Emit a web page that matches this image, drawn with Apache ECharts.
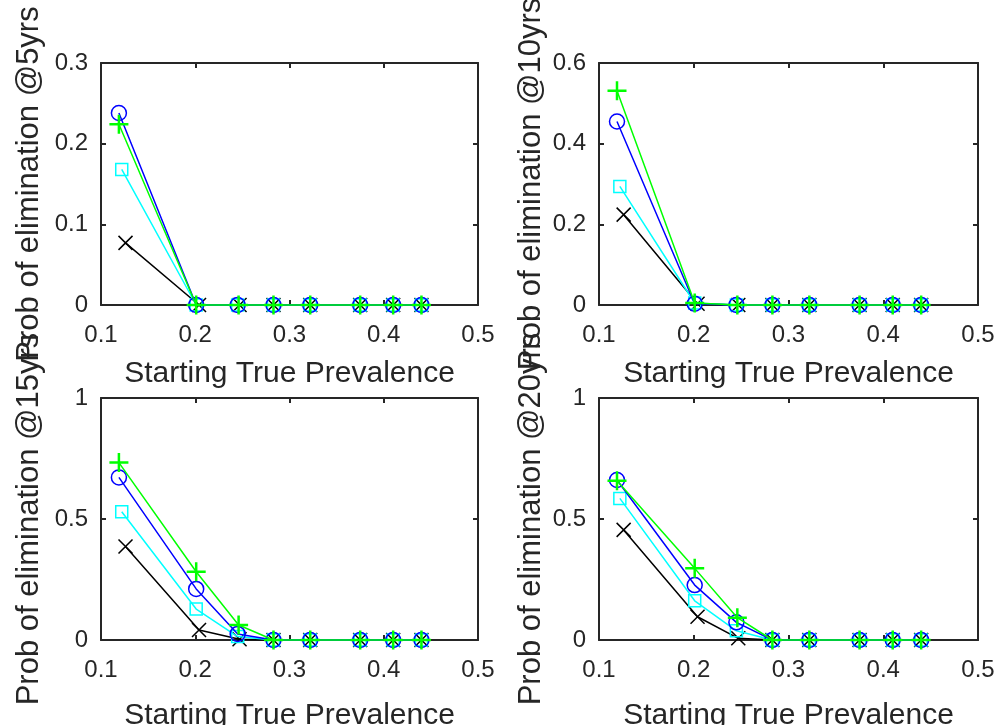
<!DOCTYPE html>
<html>
<head>
    <meta charset="utf-8">
    <title>Prob of elimination</title>
    <script src="https://cdn.jsdelivr.net/npm/echarts@6/dist/echarts.min.js"></script>
    <style>
        html, body { margin: 0; padding: 0; background: #fff; }
        #main { width: 1000px; height: 725px; }
    </style>
</head>
<body>
<div id="main"></div>
<script>
    // starting true prevalence, slightly different per scenario
    var xBlack = [0.126, 0.204, 0.247, 0.283, 0.322, 0.375, 0.410, 0.440];
    var xCyan  = [0.122, 0.201, 0.245, 0.283, 0.322, 0.375, 0.410, 0.440];
    var xBlue  = [0.119, 0.201, 0.245, 0.283, 0.322, 0.375, 0.410, 0.440];
    var xGreen = [0.119, 0.201, 0.246, 0.283, 0.322, 0.375, 0.410, 0.440];

    // prob of elimination, per horizon
    var y5Black  = [0.077, 0, 0, 0, 0, 0, 0, 0];
    var y5Cyan   = [0.168, 0, 0, 0, 0, 0, 0, 0];
    var y5Blue   = [0.238, 0, 0, 0, 0, 0, 0, 0];
    var y5Green  = [0.224, 0, 0, 0, 0, 0, 0, 0];

    var y10Black = [0.224, 0.003, 0, 0, 0, 0, 0, 0];
    var y10Cyan  = [0.294, 0.005, 0, 0, 0, 0, 0, 0];
    var y10Blue  = [0.455, 0.003, 0, 0, 0, 0, 0, 0];
    var y10Green = [0.531, 0.005, 0, 0, 0, 0, 0, 0];

    var y15Black = [0.386, 0.041, 0.003, 0, 0, 0, 0, 0];
    var y15Cyan  = [0.530, 0.128, 0.014, 0, 0, 0, 0, 0];
    var y15Blue  = [0.672, 0.211, 0.025, 0, 0, 0, 0, 0];
    var y15Green = [0.733, 0.282, 0.062, 0, 0, 0, 0, 0];

    var y20Black = [0.455, 0.096, 0.007, 0, 0, 0, 0, 0];
    var y20Cyan  = [0.585, 0.162, 0.038, 0, 0, 0, 0, 0];
    var y20Blue  = [0.661, 0.227, 0.073, 0, 0, 0, 0, 0];
    var y20Green = [0.658, 0.296, 0.092, 0, 0, 0, 0, 0];

    var yNames = ['Prob of elimination @5yrs', 'Prob of elimination @10yrs',
                  'Prob of elimination @15yrs', 'Prob of elimination @20yrs'];
    var yMax = [0.3, 0.6, 1, 1];
    var yStep = [0.1, 0.2, 0.5, 0.5];
    var xName = 'Starting True Prevalence';

    var panels = [
        [y5Black, y5Cyan, y5Blue, y5Green],
        [y10Black, y10Cyan, y10Blue, y10Green],
        [y15Black, y15Cyan, y15Blue, y15Green],
        [y20Black, y20Cyan, y20Blue, y20Green]
    ];

    var txt = '#262626';
    var font = 'Liberation Sans, Arial, Helvetica, sans-serif';

    var grids = [
        {left: 101, top: 63, width: 377, height: 242, containLabel: false, outerBoundsMode: 'none'},
        {left: 599, top: 63, width: 379, height: 242, containLabel: false, outerBoundsMode: 'none'},
        {left: 101, top: 398, width: 377, height: 242, containLabel: false, outerBoundsMode: 'none'},
        {left: 599, top: 398, width: 379, height: 242, containLabel: false, outerBoundsMode: 'none'}
    ];
    var yNameGap = [56, 52, 56, 52];
    var xNameGap = [54, 54, 61, 61];

    var plusPath = 'path://M0,5L10,5M5,0L5,10';
    var crossPath = 'path://M0,0L10,10M0,10L10,0';
    var styles = [
        {xs: xBlack, color: '#000000', symbol: crossPath, size: 14, bw: 1.5},
        {xs: xCyan, color: '#00ffff', symbol: 'rect', size: 12, bw: 1.5},
        {xs: xBlue, color: '#0000ff', symbol: 'circle', size: 15, bw: 1.5},
        {xs: xGreen, color: '#00ff00', symbol: plusPath, size: 19, bw: 2.5}
    ];

    var frameLine = {show: true, onZero: false, lineStyle: {color: txt, width: 2}};
    var frameTick = {show: true, inside: true, length: 5, lineStyle: {color: txt, width: 2}};

    var xAxes = [], yAxes = [], series = [];
    for (var p = 0; p < 4; p++) {
        xAxes.push({
            gridIndex: p, type: 'value', min: 0.1, max: 0.5, interval: 0.1,
            name: xName, nameLocation: 'middle', nameGap: xNameGap[p],
            nameTextStyle: {color: txt, fontSize: 30, fontFamily: font},
            axisLine: frameLine,
            axisTick: frameTick,
            axisLabel: {color: txt, fontSize: 24, fontFamily: font, margin: 18},
            splitLine: {show: false}
        });
        xAxes.push({
            gridIndex: p, type: 'value', min: 0.1, max: 0.5, interval: 0.1, position: 'top',
            axisLine: frameLine,
            axisTick: frameTick,
            axisLabel: {show: false},
            splitLine: {show: false}
        });
        yAxes.push({
            gridIndex: p, type: 'value', min: 0, max: yMax[p], interval: yStep[p], position: 'left',
            name: yNames[p], nameLocation: 'middle', nameGap: yNameGap[p], nameRotate: 90,
            nameTextStyle: {color: txt, fontSize: 31, fontFamily: font},
            axisLine: frameLine,
            axisTick: frameTick,
            axisLabel: {color: txt, fontSize: 24, fontFamily: font, margin: 13},
            splitLine: {show: false}
        });
        yAxes.push({
            gridIndex: p, type: 'value', min: 0, max: yMax[p], interval: yStep[p], position: 'right',
            axisLine: frameLine,
            axisTick: frameTick,
            axisLabel: {show: false},
            splitLine: {show: false}
        });
        for (var s = 0; s < 4; s++) {
            var st = styles[s];
            var ys = panels[p][s];
            var data = [];
            for (var i = 0; i < ys.length; i++) data.push([st.xs[i], ys[i]]);
            series.push({
                type: 'line',
                xAxisIndex: p * 2,
                yAxisIndex: p * 2,
                data: data,
                symbol: st.symbol,
                symbolSize: st.size,
                showAllSymbol: true,
                clip: false,
                z: 2 + s,
                animation: false,
                lineStyle: {color: st.color, width: 1.5},
                itemStyle: {color: 'transparent', borderColor: st.color, borderWidth: st.bw}
            });
        }
    }

    var myChart = echarts.init(document.getElementById('main'));
    myChart.setOption({
        backgroundColor: '#ffffff',
        animation: false,
        grid: grids,
        xAxis: xAxes,
        yAxis: yAxes,
        series: series
    });
    window.onresize = myChart.resize;
</script>
</body>
</html>
